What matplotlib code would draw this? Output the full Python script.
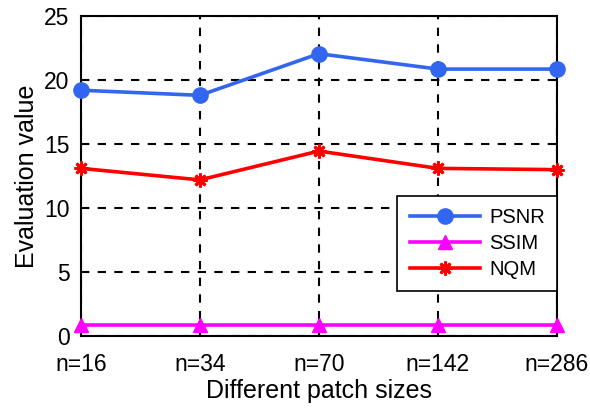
import matplotlib
matplotlib.use("Agg")
import matplotlib.pyplot as plt

plt.rcParams['font.family'] = ['Liberation Sans', 'DejaVu Sans']

categories = ["n=16", "n=34", "n=70", "n=142", "n=286"]
psnr = [19.2, 18.8, 22.05, 20.85, 20.85]
ssim = [0.86, 0.86, 0.86, 0.86, 0.86]
nqm = [13.1, 12.2, 14.45, 13.1, 13.0]

fig = plt.figure(figsize=(5.9, 4.08), dpi=100)
ax = fig.add_axes([0.137, 0.176, 0.807, 0.785])
x = list(range(len(categories)))

ax.plot(x, psnr, color='#3366f0', lw=2.6, marker='o', ms=11, label='PSNR', clip_on=False, zorder=5)
ax.plot(x, ssim, color='#ff00ff', lw=2.6, marker='^', ms=10, label='SSIM', clip_on=False, zorder=5)
ax.plot(x, nqm, color='#ff0000', lw=2.6, marker=(8, 2, 0), ms=10, mew=2, label='NQM', clip_on=False, zorder=5)

ax.set_xlim(0, 4)
ax.set_ylim(0, 25)
ax.set_xticks(x)
ax.set_xticklabels(categories)
ax.set_yticks([0, 5, 10, 15, 20, 25])
ax.tick_params(direction='in', labelsize=16.5, length=4, width=1.2)
ax.tick_params(axis='x', pad=12)
ax.tick_params(axis='y', pad=8)
ax.grid(True, color='black', ls=(0, (4, 4)), lw=1.5)
for s in ax.spines.values():
    s.set_linewidth(1.5)
ax.set_xlabel('Different patch sizes', fontsize=18, labelpad=2)
ax.set_ylabel('Evaluation value', fontsize=18, labelpad=4)

leg = ax.legend(loc='lower right', bbox_to_anchor=(1.0, 0.14), fontsize=14.5, fancybox=False,
                edgecolor='black', framealpha=1, handlelength=3.5, borderpad=0.6,
                labelspacing=0.35, handletextpad=0.45, borderaxespad=0)
leg.get_frame().set_linewidth(1.2)

fig.savefig('out.png', dpi=100)
